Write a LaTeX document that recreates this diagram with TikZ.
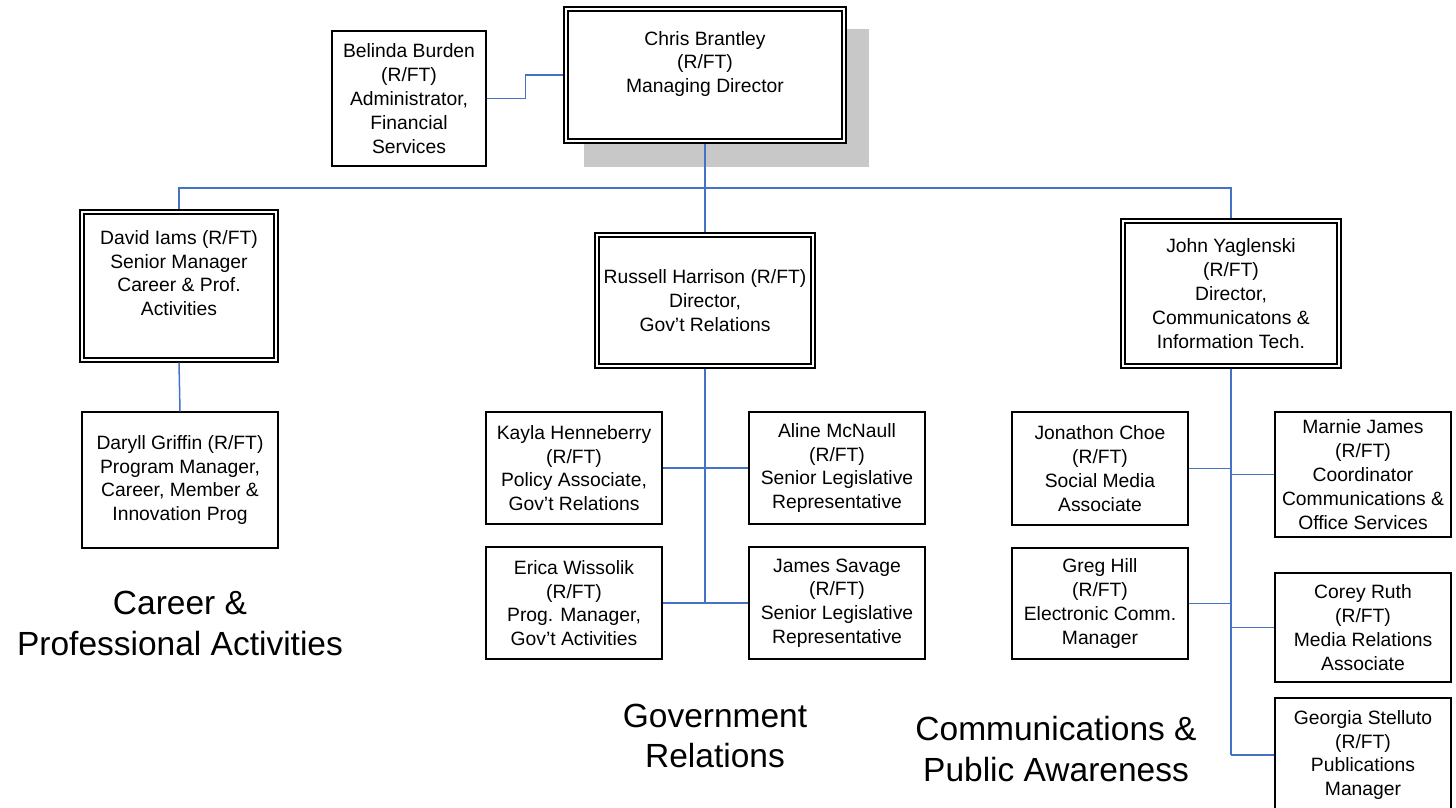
\documentclass[tikz,border=0pt]{standalone}
\usepackage{fontspec}
\setmainfont{Liberation Sans}
\usetikzlibrary{backgrounds}
\definecolor{linkblue}{HTML}{4472C4}
\definecolor{shadegray}{HTML}{C8C8C8}
\begin{document}
\begin{tikzpicture}[x=1pt,y=-1pt,
  box/.style={draw, line width=1.3pt, inner sep=0pt, align=center, fill=white,
    font=\fontsize{19.3}{23.8}\selectfont},
  boxtext/.style={inner sep=0pt, align=center, font=\fontsize{19.3}{23.8}\selectfont},
  conn/.style={draw=linkblue, line width=1.5pt},
  inner/.style={draw, line width=2pt},
  biglabel/.style={inner sep=0pt, align=center, font=\fontsize{33.5}{40.5}\selectfont}]
\useasboundingbox (0,0) rectangle (1456,807);

% top level
\node[box, minimum width=282pt, minimum height=136pt] (chris) at (705,75) {};
\begin{scope}[on background layer]
  \fill[shadegray] ([shift={(21pt,-23pt)}]chris.north west) rectangle ([shift={(22pt,-23pt)}]chris.south east);
\end{scope}
\node[boxtext] (christext) at (705,64) {Chris Brantley\\(R/FT)\\Managing Director};
\node[box, minimum width=154pt, minimum height=135pt] (belinda) at (409,98.5)
  {Belinda Burden\\(R/FT)\\Administrator,\\Financial\\Services};

% second level
\node[box, minimum width=198pt, minimum height=152pt] (david) at (179,286) {};
\node[boxtext] (davidtext) at (179,273) {David Iams (R/FT)\\Senior Manager\\Career \& Prof.\\Activities};
\node[box, minimum width=220pt, minimum height=135pt] (russell) at (705,300.5)
  {Russell Harrison (R/FT)\\Director,\\Gov’t Relations};
\node[box, minimum width=220pt, minimum height=149pt] (john) at (1231,293.5)
  {John Yaglenski\\(R/FT)\\Director,\\Communicatons \&\\Information Tech.};

% double borders
\foreach \n in {chris,david,russell,john}
  \draw[inner] ([shift={(4.5pt,-4.5pt)}]\n.north west) rectangle ([shift={(-4.5pt,4.5pt)}]\n.south east);

% career branch
\node[box, minimum width=196pt, minimum height=136pt] (daryll) at (180,480)
  {Daryll Griffin (R/FT)\\Program Manager,\\Career, Member \&\\Innovation Prog};

% government branch
\node[box, minimum width=176pt, minimum height=112pt] (kayla) at (574,468)
  {Kayla Henneberry\\(R/FT)\\Policy Associate,\\Gov’t Relations};
\node[box, minimum width=176pt, minimum height=112pt] (aline) at (837,468)
  {Aline McNaull\\(R/FT)\\Senior Legislative\\Representative};
\node[box, minimum width=176pt, minimum height=112pt] (erica) at (574,603)
  {Erica Wissolik\\(R/FT)\\Prog. Manager,\\Gov’t Activities};
\node[box, minimum width=176pt, minimum height=112pt] (james) at (837,603)
  {James Savage\\(R/FT)\\Senior Legislative\\Representative};

% communications branch
\node[box, minimum width=176pt, minimum height=113pt] (jonathon) at (1100,468.5)
  {Jonathon Choe\\(R/FT)\\Social Media\\Associate};
\node[box, minimum width=176pt, minimum height=111pt] (greg) at (1100,603.5)
  {Greg Hill\\(R/FT)\\Electronic Comm.\\Manager};
\node[box, minimum width=176pt, minimum height=125pt] (marnie) at (1363,474.5)
  {Marnie James\\(R/FT)\\Coordinator\\Communications \&\\Office Services};
\node[box, minimum width=176pt, minimum height=109pt] (corey) at (1363,627.5)
  {Corey Ruth\\(R/FT)\\Media Relations\\Associate};
\node[box, minimum width=176pt, minimum height=114pt] (georgia) at (1363,755)
  {Georgia Stelluto\\(R/FT)\\Publications\\Manager};

% group labels
\node[biglabel] (careerlabel) at (180,623.5) {Career \&\\Professional Activities};
\node[biglabel] (govlabel) at (715,736) {Government\\Relations};
\node[biglabel] (commlabel) at (1056,749) {Communications \&\\Public Awareness};

% connectors
\coordinate (bus) at (705,188);
\draw[conn] (belinda.east) -- ++(39,0) |- (chris.west);
\draw[conn] (chris.south) -- (russell.north);
\draw[conn] (david.north) |- (bus) -| (john.north);
\draw[conn] (david.south) -- (daryll.north);
\draw[conn] (russell.south) -- (russell.south |- erica.east);
\draw[conn] (kayla.east) -- (aline.west);
\draw[conn] (erica.east) -- (james.west);
\draw[conn] (john.south) -- (john.south |- georgia.west);
\draw[conn] (jonathon.east) -- (jonathon.east -| john.south);
\draw[conn] (greg.east) -- (greg.east -| john.south);
\draw[conn] (marnie.west) -- (marnie.west -| john.south);
\draw[conn] (corey.west) -- (corey.west -| john.south);
\draw[conn] (georgia.west) -- (georgia.west -| john.south);
\end{tikzpicture}
\end{document}
